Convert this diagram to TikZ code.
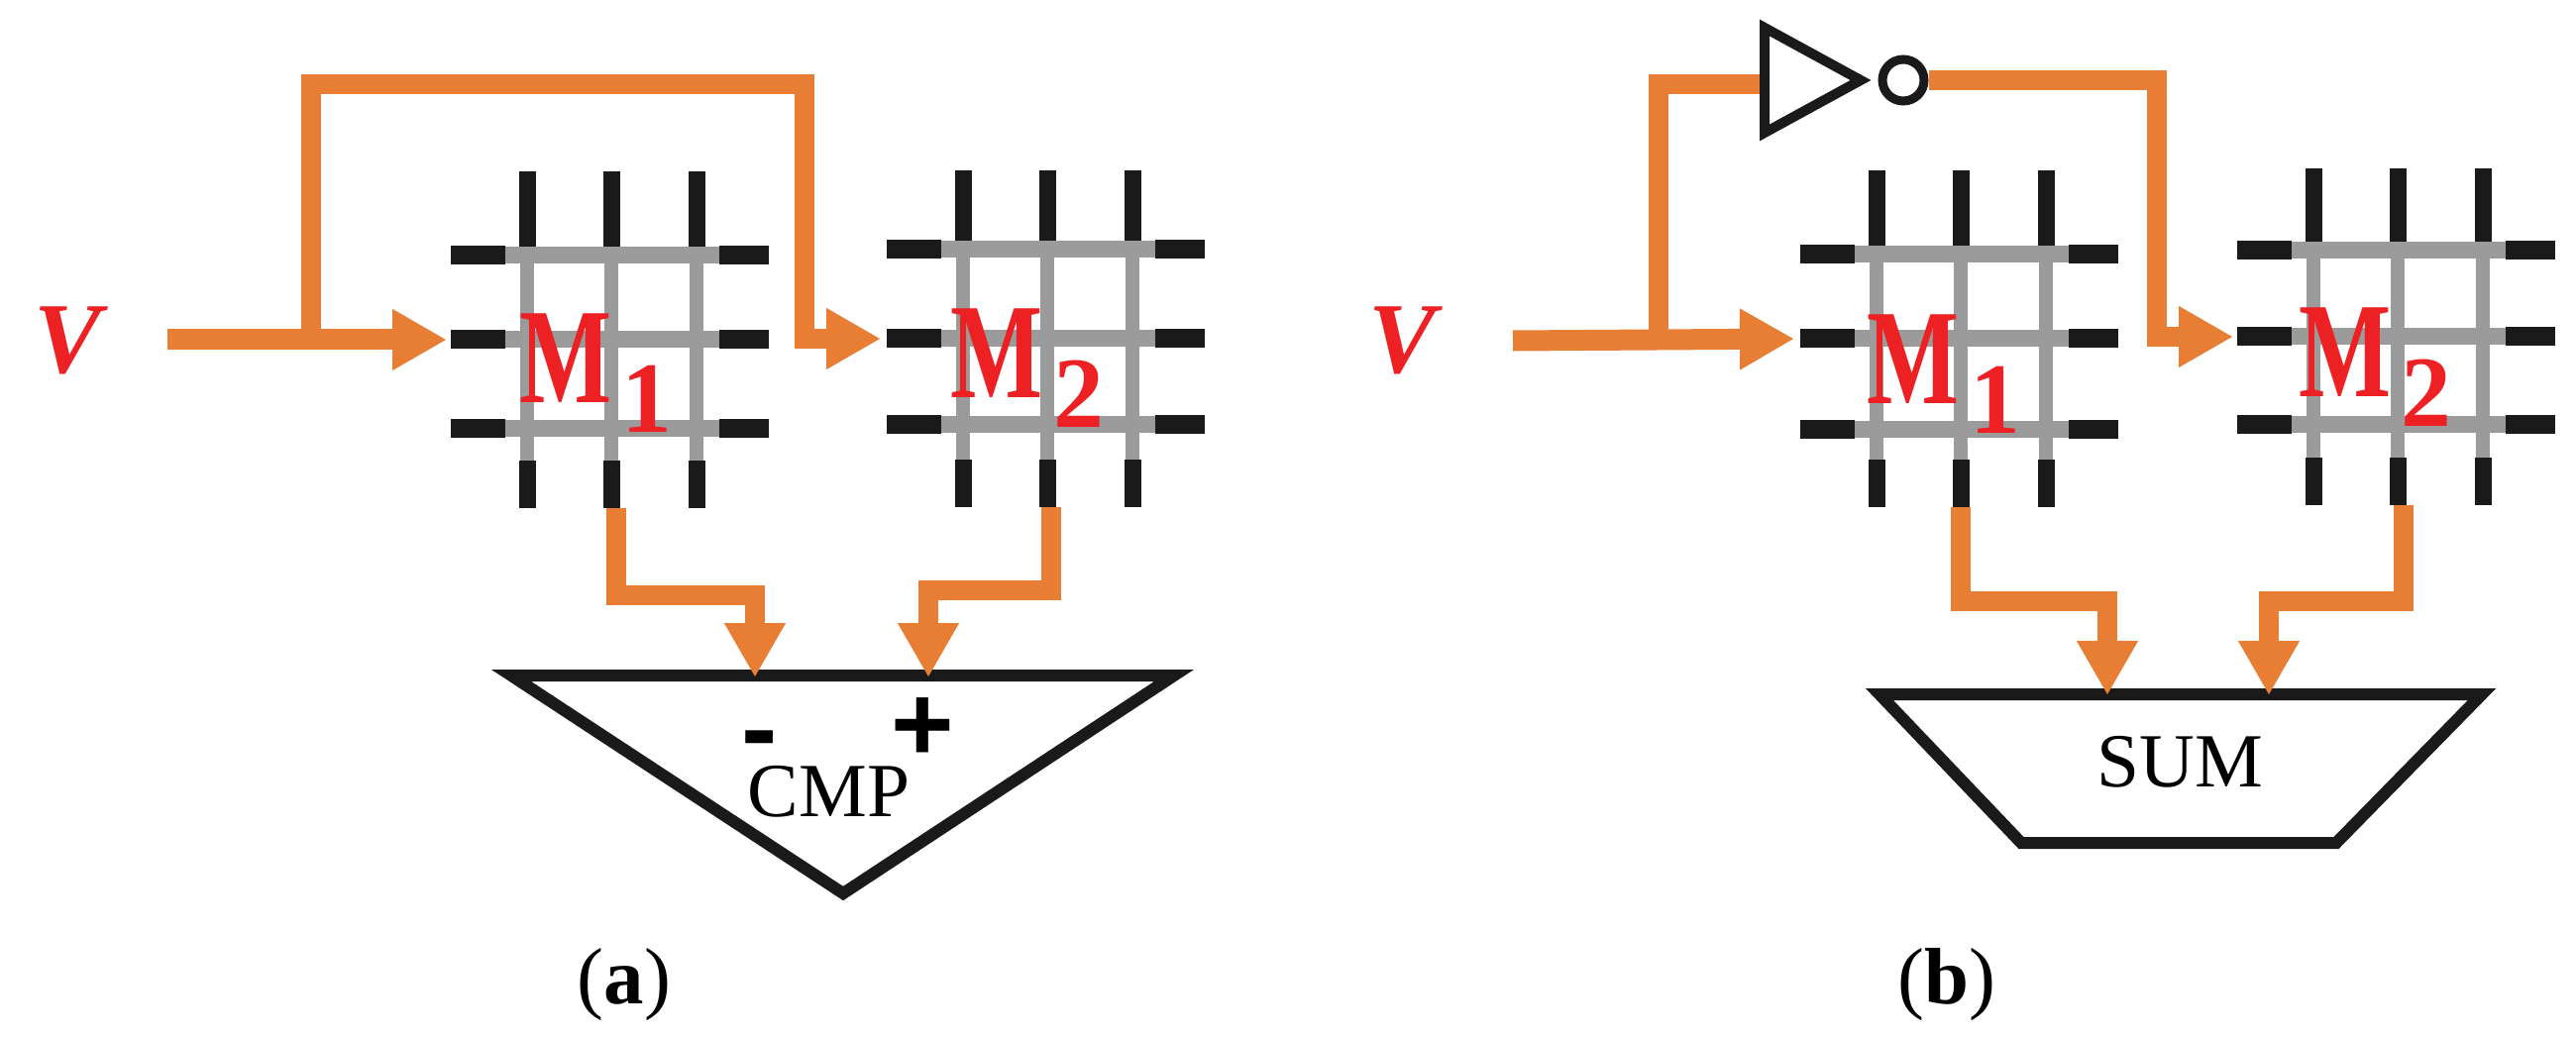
\documentclass[tikz,border=0pt]{standalone}
\usepackage{xcolor}
\usepackage{graphicx}
\usepackage{fontspec}
\setmainfont{Liberation Serif}
\newfontfamily\signfont{Liberation Sans}
\usepackage{tikz}
\usetikzlibrary{
  arrows.meta
}
\definecolor{wireorange}{RGB}{232,125,52}
\definecolor{labelred}{RGB}{237,32,36}
\definecolor{bargray}{RGB}{155,155,155}
\definecolor{barblack}{RGB}{26,26,26}
\tikzset{
  wireline/.style={
    line width=0.20cm, draw=wireorange
  },
  wirearrow/.style={
    -{Triangle[length=0.55cm,width=0.58cm]}, line width=0.20cm, draw=wireorange
  },
  graybar/.style={
    line width=0.14cm, draw=bargray
  },
  blackbar/.style={
    line width=0.17cm, draw=barblack
  },
  gatebox/.style={
    line width=0.12cm, draw=barblack
  },
  memlabel/.style={
    inner sep=0pt, text=labelred, font=\bfseries
  },
  vlabel/.style={
    inner sep=0pt, text=labelred, font=\fontsize{29}{29}\selectfont\bfseries\itshape
  },
  gatelabel/.style={
    inner sep=0pt, font=\fontsize{22}{22}\selectfont
  },
  signlabel/.style={
    inner sep=0pt, font=\fontsize{31}{31}\selectfont\signfont\bfseries
  },
  captionlabel/.style={
    inner sep=0pt, font=\fontsize{23}{23}\selectfont
  }
}
% name, centre x, centre y, top row, bottom row
\newcommand{\crossbar}[5]{
  \begin{scope}[shift={(#2,#3)}]
    \foreach \dx in {-0.85,0,0.86} {
      \draw[blackbar] (\dx,-1.70) -- (\dx,#4);
      \draw[blackbar] (\dx,1.22) -- (\dx,1.70);
      \draw[graybar] (\dx,#4) -- (\dx,1.22);
    }
    \foreach \dy in {#4,0,#5} {
      \draw[graybar, line width=0.17cm] (-1.07,\dy) -- (1.09,\dy);
      \draw[blackbar, line width=0.19cm] (-1.62,\dy) -- (-1.07,\dy);
      \draw[blackbar, line width=0.19cm] (1.09,\dy) -- (1.59,\dy);
    }
    \coordinate (#1w) at (-1.62,0);
    \coordinate (#1s) at (0,1.70);
  \end{scope}
}
\newcommand{\memtext}[1]{%
  \scalebox{0.72}[1]{\fontsize{39}{39}\selectfont M}%
  \kern0.10cm\raisebox{-0.30cm}{\fontsize{29}{29}\selectfont #1}%
}

\begin{document}
\begin{tikzpicture}[x=1cm,y=-1cm]
    \useasboundingbox (0,0) rectangle (26,10.48);

    % Panel a: crossbars
    \crossbar{aone}{6.17}{3.43}{-0.85}{0.90}
    \crossbar{atwo}{10.57}{3.42}{-0.90}{0.86}
    \node[memlabel] (aonelabel) at (6.015,3.77) {\memtext{1}};
    \node[memlabel] (atwolabel) at (10.37,3.715) {\memtext{2}};

    % Panel a: input and feedback
    \node[vlabel] (avolt) at (0.68,3.44) {V};
    \coordinate (ain) at (1.69,3.43);
    \coordinate (abranch) at (3.14,3.43);
    \coordinate (atopl) at (3.14,0.85);
    \coordinate (atopr) at (8.12,0.85);
    \draw[wirearrow, shorten >=0.04cm, line width=0.21cm] (ain) -- (aonew);
    \draw[wirearrow, shorten >=0.06cm] (abranch) -- (atopl) -- (atopr) |- (atwow);

    % Panel a: comparator
    \coordinate (cmpl) at (5.16,6.82);
    \coordinate (cmpr) at (11.85,6.82);
    \coordinate (cmpb) at (8.51,9.02);
    \coordinate (cmpminus) at (7.62,6.84);
    \coordinate (cmpplus) at (9.37,6.84);
    \draw[gatebox] (cmpl) -- (cmpr) -- (cmpb) -- cycle;
    \draw[wirearrow] ([xshift=0.05cm]aones) -- ++(0,0.88) -| (cmpminus);
    \draw[wirearrow] ([xshift=0.04cm]atwos) -- ++(0,0.84) -| (cmpplus);
    \node[signlabel] (minuslabel) at (7.67,7.55) {-};
    \node[signlabel] (pluslabel) at (9.31,7.37) {+};
    \node[gatelabel] (cmplabel) at (8.365,7.99) {CMP};
    \node[captionlabel] (alabel) at (6.30,9.94) {(\textbf{a})};

    % Panel b: crossbars
    \crossbar{bone}{19.79}{3.42}{-0.85}{0.91}
    \crossbar{btwo}{24.20}{3.40}{-0.87}{0.89}
    \node[memlabel] (bonelabel) at (19.62,3.775) {\memtext{1}};
    \node[memlabel] (btwolabel) at (23.975,3.705) {\memtext{2}};

    % Panel b: input and inverter
    \node[vlabel] (bvolt) at (14.15,3.44) {V};
    \coordinate (bin) at (15.27,3.44);
    \coordinate (bbranch) at (16.74,3.44);
    \coordinate (btopl) at (16.74,0.85);
    \coordinate (notin) at (17.81,0.85);
    \coordinate (nottop) at (17.81,0.28);
    \coordinate (notbot) at (17.81,1.34);
    \coordinate (nottip) at (18.78,0.81);
    \coordinate (btopr) at (21.77,0.81);
    \draw[wirearrow, shorten >=0.06cm, line width=0.21cm] (bin) -- (bonew);
    \draw[wireline] (bbranch) -- (btopl) -- (notin);
    \draw[gatebox, line width=0.10cm] (nottop) -- (nottip) -- (notbot) -- cycle;
    \node[circle, draw=barblack, line width=0.09cm, inner sep=0pt, minimum size=0.42cm] (bubble) at (19.21,0.81) {};
    \draw[wirearrow, shorten >=0.04cm] (bubble.east) -- (btopr) |- (btwow);

    % Panel b: adder
    \coordinate (suma) at (18.97,7.01);
    \coordinate (sumb) at (25.05,7.01);
    \coordinate (sumc) at (23.58,8.51);
    \coordinate (sumd) at (20.40,8.51);
    \coordinate (sumone) at (21.27,7.02);
    \coordinate (sumtwo) at (22.90,7.02);
    \draw[gatebox] (suma) -- (sumb) -- (sumc) -- (sumd) -- cycle;
    \draw[wirearrow] (bones) -- ++(0,0.95) -| (sumone);
    \draw[wirearrow] ([xshift=0.06cm]btwos) -- ++(0,0.97) -| (sumtwo);
    \node[gatelabel] (sumlabel) at (22.00,7.69) {SUM};
    \node[captionlabel] (blabel) at (19.65,9.94) {(\textbf{b})};

\end{tikzpicture}
\end{document}
